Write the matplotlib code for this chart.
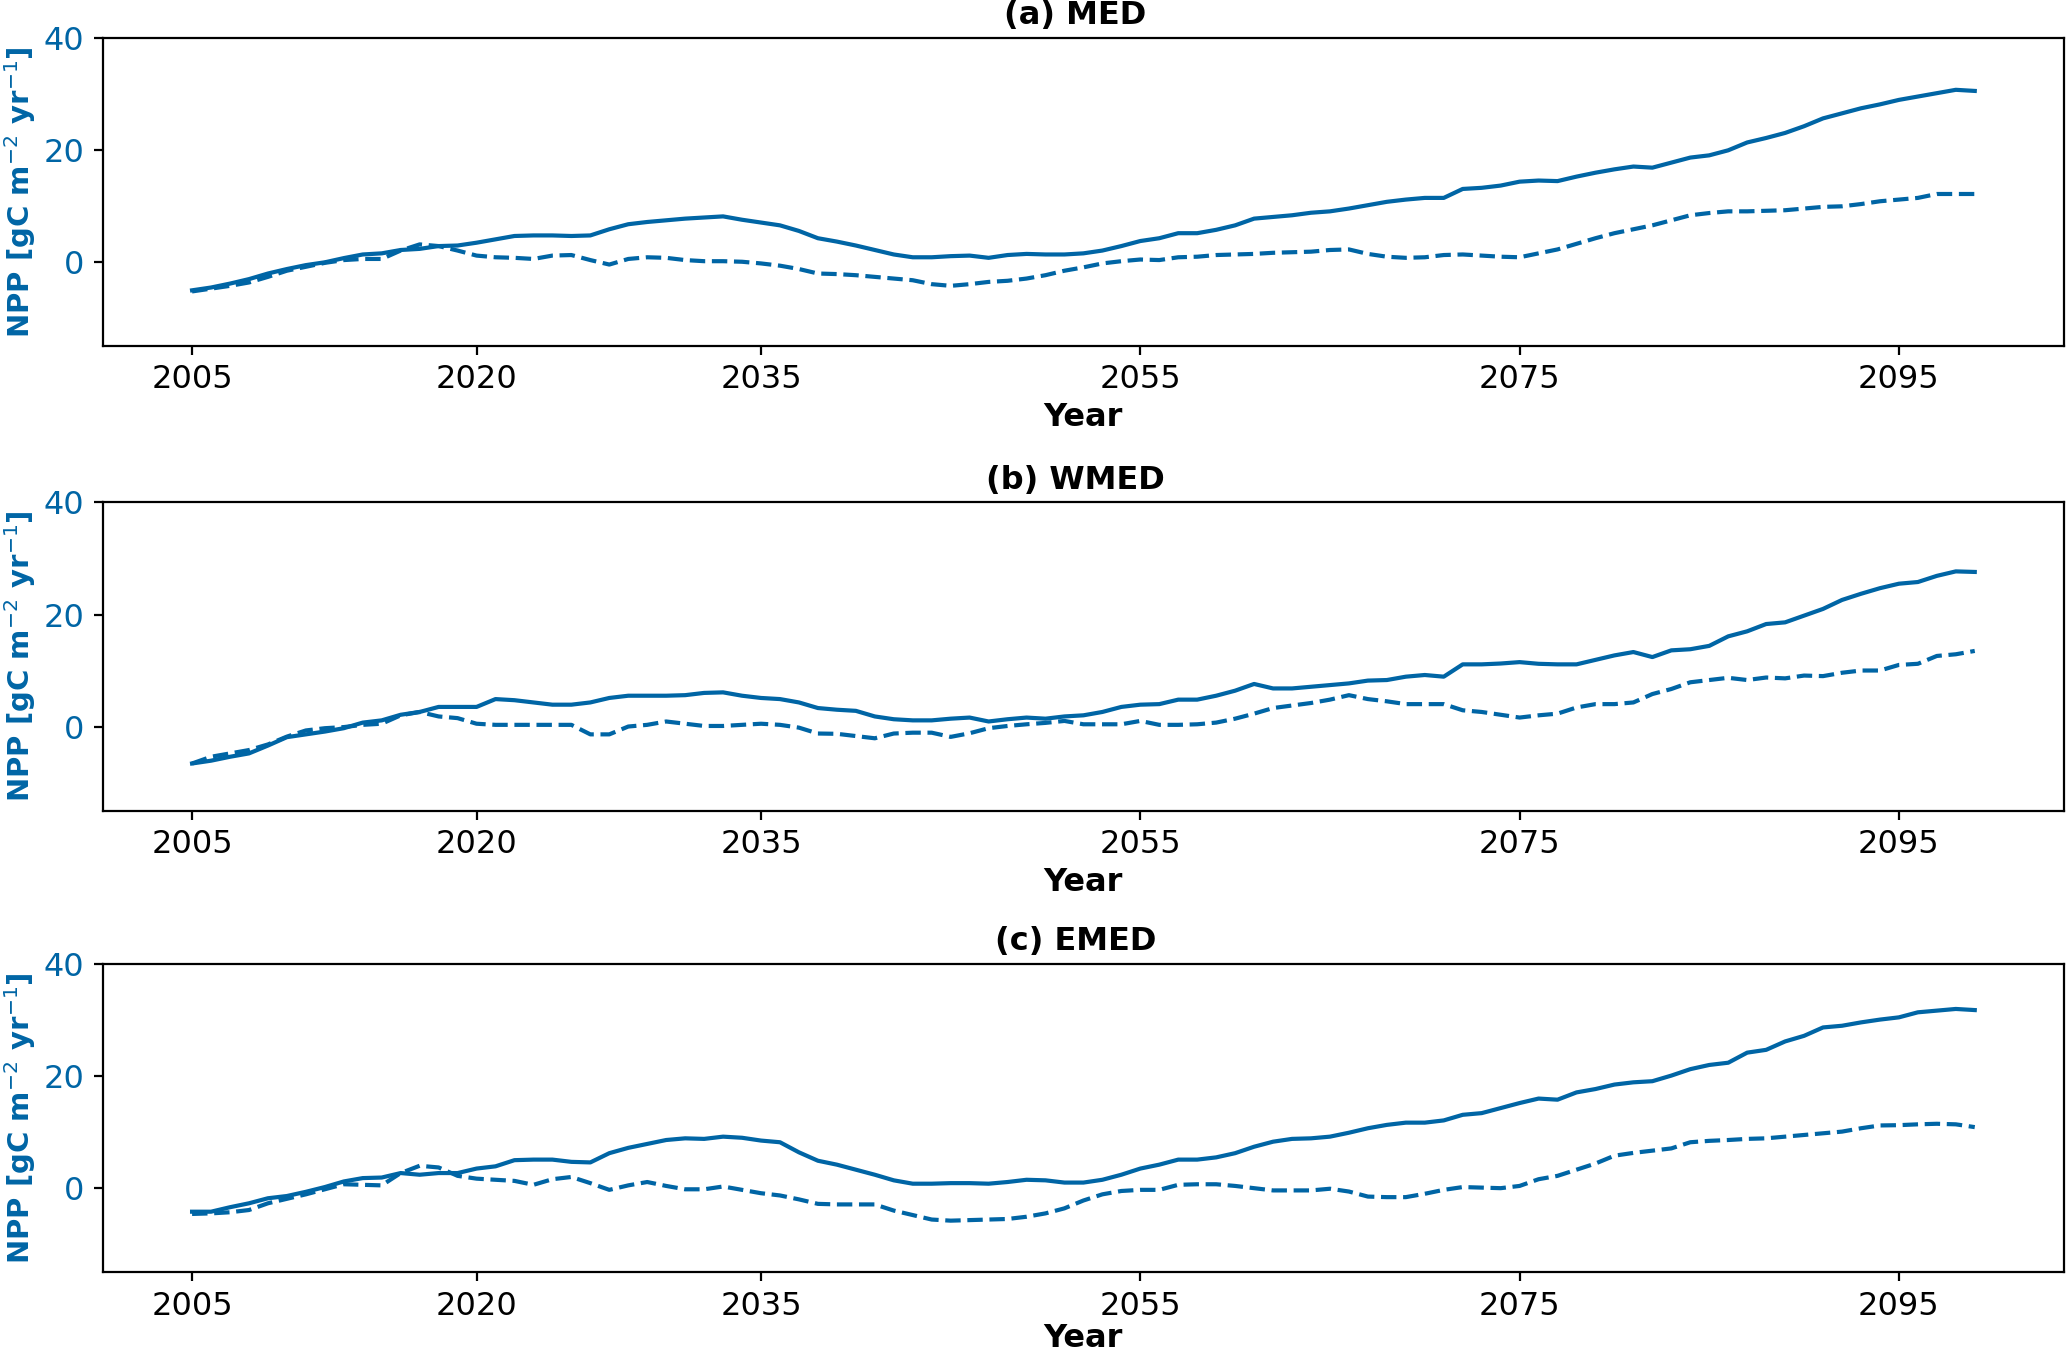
import numpy as np
import matplotlib
matplotlib.use('Agg')
import matplotlib.pyplot as plt

years = np.arange(2005, 2100)
xticks = [2005, 2020, 2035, 2055, 2075, 2095]
yticks = [0, 20, 40]
titles = ['(a) MED', '(b) WMED', '(c) EMED']

med_solid = [-5.1, -4.6, -3.9, -3.1, -2.1, -1.3, -0.6, -0.1, 0.65, 1.3, 1.5, 2.1, 2.3, 2.8, 2.9, 3.4,
             4.0, 4.6, 4.7, 4.7, 4.6, 4.7, 5.8, 6.7, 7.1, 7.4, 7.7, 7.9, 8.1, 7.5, 7.0,
             6.5, 5.5, 4.2, 3.6, 2.9, 2.1, 1.3, 0.8, 0.8, 1.0, 1.1, 0.7, 1.2, 1.4, 1.3, 1.3,
             1.5, 2.0, 2.8, 3.7, 4.2, 5.1, 5.1, 5.7, 6.5, 7.7, 8.0, 8.3, 8.75, 9.0, 9.5, 10.1,
             10.7, 11.1, 11.4, 11.4, 13.0, 13.2, 13.6, 14.3, 14.5, 14.4, 15.2, 15.9, 16.5, 17.0, 16.8, 17.7,
             18.6, 19.0, 19.9, 21.3, 22.1, 23.0, 24.2, 25.6, 26.5, 27.4, 28.1, 28.9, 29.5, 30.1, 30.7, 30.5]
med_dash = [-5.3, -4.8, -4.3, -3.7, -2.7, -1.6, -0.9, -0.2, 0.3, 0.5, 0.5, 2.0, 3.1, 2.8, 2.0, 1.1,
            0.8, 0.7, 0.5, 1.1, 1.2, 0.3, -0.5, 0.5, 0.8, 0.7, 0.3, 0.1, 0.1, 0.0, -0.3,
            -0.7, -1.3, -2.1, -2.2, -2.4, -2.7, -3.0, -3.3, -4.0, -4.3, -4.0, -3.6, -3.4, -3.0, -2.4, -1.6,
            -1.0, -0.3, 0.1, 0.4, 0.3, 0.8, 0.9, 1.2, 1.3, 1.4, 1.6, 1.7, 1.8, 2.1, 2.2, 1.4,
            0.9, 0.7, 0.8, 1.2, 1.3, 1.1, 0.9, 0.8, 1.5, 2.2, 3.2, 4.2, 5.1, 5.8, 6.5, 7.4,
            8.3, 8.7, 9.0, 9.0, 9.1, 9.2, 9.5, 9.8, 9.9, 10.3, 10.8, 11.1, 11.4, 12.1, 12.1, 12.1]

wmed_solid = [-6.6, -6.1, -5.4, -4.8, -3.4, -1.9, -1.4, -0.9, -0.3, 0.7, 1.1, 2.1, 2.6, 3.5, 3.5, 3.5,
              4.9, 4.7, 4.3, 3.9, 3.9, 4.3, 5.1, 5.5, 5.5, 5.5, 5.6, 6.0, 6.1, 5.5, 5.1,
              4.9, 4.3, 3.3, 3.0, 2.8, 1.8, 1.3, 1.1, 1.1, 1.4, 1.6, 0.9, 1.3, 1.6, 1.4, 1.8,
              2.0, 2.6, 3.5, 3.9, 4.0, 4.8, 4.8, 5.5, 6.4, 7.6, 6.8, 6.8, 7.1, 7.4, 7.7, 8.2,
              8.3, 8.9, 9.2, 8.9, 11.1, 11.1, 11.25, 11.5, 11.2, 11.1, 11.1, 11.9, 12.7, 13.3, 12.4, 13.6,
              13.8, 14.4, 16.1, 17.0, 18.3, 18.6, 19.8, 21.0, 22.6, 23.7, 24.7, 25.5, 25.8, 26.9, 27.7, 27.6]
wmed_dash = [-6.6, -5.4, -4.8, -4.2, -3.2, -1.8, -0.7, -0.3, -0.1, 0.3, 0.5, 2.0, 2.6, 1.8, 1.5, 0.5,
             0.3, 0.3, 0.3, 0.3, 0.3, -1.4, -1.4, 0.0, 0.3, 0.9, 0.5, 0.1, 0.1, 0.3, 0.5,
             0.3, -0.2, -1.25, -1.3, -1.7, -2.1, -1.25, -1.1, -1.1, -1.85, -1.2, -0.3, 0.1, 0.4, 0.65, 1.0,
             0.4, 0.4, 0.4, 1.0, 0.3, 0.3, 0.4, 0.7, 1.4, 2.3, 3.3, 3.75, 4.2, 4.8, 5.6, 4.9,
             4.5, 4.0, 4.0, 4.0, 2.9, 2.6, 2.1, 1.6, 2.0, 2.3, 3.4, 4.0, 4.0, 4.3, 5.8, 6.7,
             7.9, 8.3, 8.7, 8.3, 8.75, 8.6, 9.1, 9.0, 9.6, 10.0, 10.0, 11.0, 11.2, 12.6, 12.9, 13.5]

emed_solid = [-4.2, -4.2, -3.4, -2.7, -1.8, -1.4, -0.65, 0.2, 1.2, 1.8, 1.9, 2.7, 2.4, 2.7, 2.7, 3.5,
              3.9, 5.0, 5.1, 5.1, 4.7, 4.6, 6.25, 7.2, 7.9, 8.6, 8.9, 8.8, 9.2, 9.0, 8.5,
              8.2, 6.4, 4.9, 4.2, 3.3, 2.4, 1.4, 0.8, 0.8, 0.9, 0.9, 0.8, 1.1, 1.5, 1.4, 1.0,
              1.0, 1.5, 2.4, 3.5, 4.2, 5.1, 5.1, 5.5, 6.25, 7.4, 8.3, 8.8, 8.9, 9.2, 9.9, 10.7,
              11.3, 11.7, 11.7, 12.1, 13.1, 13.4, 14.3, 15.2, 16.0, 15.8, 17.1, 17.7, 18.5, 18.9, 19.1, 20.1,
              21.25, 22.0, 22.4, 24.2, 24.7, 26.2, 27.2, 28.7, 29.0, 29.6, 30.1, 30.5, 31.4, 31.7, 32.0, 31.8]
emed_dash = [-4.6, -4.5, -4.3, -3.9, -2.7, -1.9, -1.1, -0.2, 0.7, 0.6, 0.5, 2.7, 4.0, 3.7, 2.2, 1.7,
             1.5, 1.3, 0.6, 1.6, 2.0, 0.9, -0.3, 0.5, 1.1, 0.4, -0.2, -0.2, 0.3, -0.3, -0.9,
             -1.3, -2.0, -2.8, -2.9, -2.9, -2.9, -4.0, -4.8, -5.6, -5.8, -5.7, -5.6, -5.5, -5.1, -4.5, -3.6,
             -2.2, -1.1, -0.5, -0.3, -0.3, 0.6, 0.7, 0.7, 0.4, 0.0, -0.4, -0.4, -0.4, -0.1, -0.6, -1.5,
             -1.6, -1.6, -1.0, -0.3, 0.2, 0.1, 0.0, 0.4, 1.6, 2.2, 3.3, 4.4, 5.8, 6.3, 6.7, 7.1,
             8.2, 8.45, 8.6, 8.8, 8.9, 9.2, 9.5, 9.8, 10.1, 10.7, 11.2, 11.25, 11.4, 11.5, 11.4, 10.9]

solid_series = [med_solid, wmed_solid, emed_solid]
dash_series = [med_dash, wmed_dash, emed_dash]

blue = '#0065a5'

fig = plt.figure(figsize=(10.335, 6.785), dpi=200)
bottoms = [0.7452, 0.4027, 0.0625]
xpads = [2.5, 2.5, 0.5]

for i in range(3):
    ax = fig.add_axes([0.0498, bottoms[i], 0.9487, 0.227])
    ax.plot(years, solid_series[i], color=blue, lw=1.5, linestyle='-')
    ax.plot(years, dash_series[i], color=blue, lw=1.5, linestyle='--')

    ax.set_ylim(-15, 40)
    ax.set_xticks(xticks)
    ax.set_yticks(yticks)
    ax.tick_params(axis='both', labelsize=11.5, length=3.2, width=0.8)
    ax.tick_params(axis='y', labelcolor=blue)
    for sp in ax.spines.values():
        sp.set_linewidth(0.8)

    ax.set_title(titles[i], fontsize=11.5, fontweight='bold', pad=5, x=0.496)
    ax.set_xlabel('Year', fontsize=11.5, fontweight='bold', labelpad=xpads[i])
    ax.set_ylabel(r'NPP [gC m$^{-2}$ yr$^{-1}$]', fontsize=10.5, fontweight='bold', color=blue)
    ax.yaxis.set_label_coords(-0.033, 0.5)

fig.savefig('out.png', dpi=200)
plt.close(fig)
